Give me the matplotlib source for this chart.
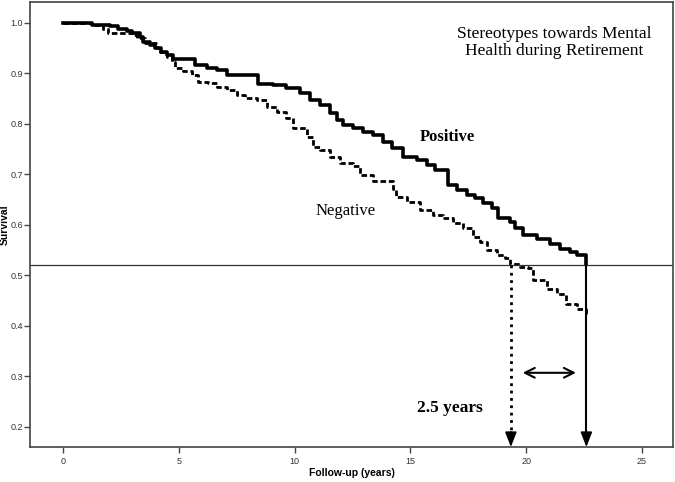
import matplotlib
matplotlib.use('Agg')
import matplotlib.pyplot as plt

# Kaplan-Meier curves
pos_time = [0, 1.24, 2.03, 2.39, 2.75, 2.96, 3.32, 3.47, 3.76, 3.97,
            4.22, 4.47, 4.76, 5.7, 6.2, 6.63, 7.06, 8.43, 9.08, 9.65,
            10.23, 10.66, 11.1, 11.53, 11.82, 12.1, 12.54, 12.97, 13.4, 13.83,
            14.19, 14.7, 15.27, 15.7, 16.06, 16.64, 17.0, 17.43, 17.79, 18.15,
            18.51, 18.8, 19.3, 19.5, 19.86, 20.45, 21.03, 21.46, 21.89, 22.18,
            22.6]
pos_surv = [1.0, 0.996, 0.994, 0.989, 0.985, 0.98, 0.973, 0.963, 0.956, 0.95,
            0.943, 0.937, 0.928, 0.917, 0.911, 0.907, 0.897, 0.88, 0.877, 0.871,
            0.861, 0.847, 0.838, 0.821, 0.808, 0.798, 0.791, 0.784, 0.778, 0.765,
            0.752, 0.735, 0.728, 0.719, 0.709, 0.679, 0.669, 0.659, 0.653, 0.643,
            0.633, 0.613, 0.606, 0.593, 0.58, 0.573, 0.563, 0.553, 0.547, 0.54,
            0.522]

neg_time = [0, 1.24, 1.74, 1.96, 3.0, 3.18, 3.54, 4.04, 4.19, 4.47,
            4.69, 4.83, 5.19, 5.55, 5.84, 6.27, 6.63, 7.06, 7.5, 7.86,
            8.36, 8.79, 9.22, 9.65, 9.94, 10.52, 10.8, 11.1, 11.53, 11.96,
            12.54, 12.82, 13.4, 14.26, 14.4, 14.84, 15.41, 15.98, 16.42, 16.86,
            17.29, 17.72, 18.0, 18.3, 18.72, 19.08, 19.3, 19.73, 20.1, 20.3,
            20.88, 21.31, 21.74, 22.18, 22.6]
neg_surv = [1.0, 0.996, 0.989, 0.98, 0.976, 0.97, 0.96, 0.95, 0.943, 0.933,
            0.923, 0.91, 0.904, 0.897, 0.884, 0.882, 0.874, 0.867, 0.857, 0.851,
            0.847, 0.834, 0.824, 0.811, 0.791, 0.775, 0.755, 0.748, 0.735, 0.722,
            0.716, 0.699, 0.686, 0.672, 0.656, 0.646, 0.629, 0.619, 0.613, 0.603,
            0.593, 0.576, 0.566, 0.55, 0.54, 0.534, 0.522, 0.517, 0.514, 0.49,
            0.474, 0.464, 0.444, 0.434, 0.423]

median_level = 0.52
neg_median = 19.34
pos_median = 22.6
x_ticks = [0, 5, 10, 15, 20, 25]
y_ticks = [0.2, 0.3, 0.4, 0.5, 0.6, 0.7, 0.8, 0.9, 1.0]

serif = 'Liberation Serif'
sans = 'Liberation Sans'

fig = plt.figure(figsize=(6.75, 4.82), dpi=100)
ax = fig.add_axes([30 / 675, 35 / 482, 643 / 675, 445 / 482])

ax.plot(pos_time, pos_surv, drawstyle='steps-post', color='black', lw=2.6)
ax.plot(neg_time, neg_surv, drawstyle='steps-post', color='black', lw=2.0,
        linestyle=(0, (2, 1)))

ax.axhline(median_level, color='#333333', lw=0.9)

# vertical drops to the axis
ymin, ymax = 0.16, 1.0416
ax.plot([neg_median, neg_median], [median_level, ymin + 0.02], color='black',
        lw=2.0, linestyle=':')
ax.plot([pos_median, pos_median], [median_level, ymin + 0.02], color='black', lw=1.5)
for xm in [neg_median, pos_median]:
    ax.annotate('', xy=(xm, ymin), xytext=(xm, ymin + 0.03),
                arrowprops=dict(arrowstyle='-|>,head_length=0.9,head_width=0.35',
                                color='black', lw=1.2, shrinkA=0, shrinkB=0))

ax.annotate('', xy=(19.85, 0.307), xytext=(22.15, 0.307),
            arrowprops=dict(arrowstyle='<->,head_length=0.7,head_width=0.35',
                            color='black', lw=1.5, shrinkA=0, shrinkB=0))

ax.text(16.7, 0.237, '2.5 years', family=serif, fontsize=12.5,
        fontweight='bold', ha='center', va='center')
ax.text(16.6, 0.774, 'Positive', family=serif, fontsize=12,
        fontweight='bold', ha='center', va='center')
ax.text(12.2, 0.628, 'Negative', family=serif, fontsize=12,
        ha='center', va='center')
ax.text(21.2, 0.961, 'Stereotypes towards Mental\nHealth during Retirement',
        family=serif, fontsize=12.5, ha='center', va='center', linespacing=1.1)

ax.set_xlim(-1.425, 26.34)
ax.set_ylim(ymin, ymax)
ax.set_xticks(x_ticks)
ax.set_xticklabels([str(t) for t in x_ticks])
ax.set_yticks(y_ticks)
ax.set_yticklabels(['%.1f' % t for t in y_ticks])
ax.tick_params(length=4, width=1, color='#444444', labelsize=6.5,
               labelcolor='#333333', pad=1)
ax.tick_params(axis='x', pad=3)
for lab in ax.get_xticklabels() + ax.get_yticklabels():
    lab.set_family(sans)

for sp in ax.spines.values():
    sp.set_color('#444444')
    sp.set_linewidth(1.2)

ax.set_xlabel('Follow-up (years)', family=sans, fontsize=7.5, fontweight='bold')
ax.set_ylabel('Survival', family=sans, fontsize=7.5, fontweight='bold')
ax.xaxis.set_label_coords(0.5, -0.048)
ax.yaxis.set_label_coords(-0.031, 0.5)

fig.savefig('out.png', dpi=100)
